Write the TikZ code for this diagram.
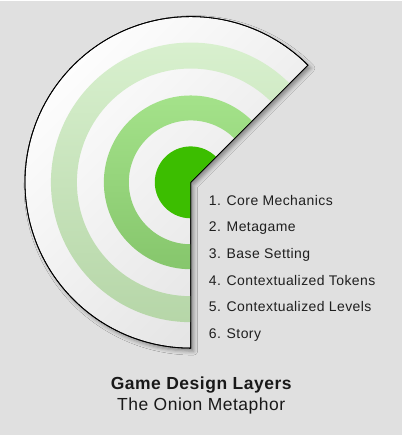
\documentclass[tikz,border=0pt]{standalone}
\usepackage{fontspec}
\setmainfont{Liberation Sans}
\newfontfamily\layerfont{Liberation Sans}[LetterSpace=3]
\usetikzlibrary{shadows.blur}

\definecolor{backdrop}{HTML}{E0E0E0}
\definecolor{coregreen}{HTML}{3CBE00}
\definecolor{midgreentop}{HTML}{A4E28A}
\definecolor{midgreenbot}{HTML}{86C66C}
\definecolor{palegreentop}{HTML}{D8F0CE}
\definecolor{palegreenbot}{HTML}{B6D6A8}

\begin{document}
\begin{tikzpicture}[
  x=1pt,y=1pt,
  onion/.style={draw=black,line width=0.8pt,top color=white,bottom color=black!11,shading angle=45},
  ring/.style={even odd rule,shading angle=45},
  layer/.style={anchor=base west,inner sep=0pt,text=black!88,font=\layerfont\fontsize{14}{16}\selectfont},
  caption/.style={anchor=base,inner sep=0pt,text=black!90}
]
  \fill[backdrop] (0,0) rectangle (403,435);
  \coordinate (core) at (191,253);

  % the cut onion
  \path[onion,blur shadow={shadow xshift=3pt,shadow yshift=-3pt,shadow blur radius=4pt}]
    (core) -- ++(45:166) arc[start angle=45,end angle=270,radius=166] -- cycle;
  \begin{scope}
    \clip (core) -- ++(45:166) arc[start angle=45,end angle=270,radius=166] -- cycle;
    \shade[ring,top color=palegreentop,bottom color=palegreenbot]
      (core) circle[radius=140] (core) circle[radius=114];
    \shade[ring,top color=midgreentop,bottom color=midgreenbot]
      (core) circle[radius=87] (core) circle[radius=62];
    \fill[coregreen] (core) circle[radius=36];
  \end{scope}
  \draw[line width=0.8pt] (core) -- ++(45:166) arc[start angle=45,end angle=270,radius=166] -- cycle;

  % layer list
  \foreach \layername [count=\i] in {Core Mechanics,Metagame,Base Setting,Contextualized Tokens,Contextualized Levels,Story}
    \node[layer] (layer\i) at (209,230-26.67*\i+26.67) {\i. \layername};

  \node[caption,font=\layerfont\bfseries\fontsize{17.5}{20}\selectfont] (title) at (201.5,46) {Game Design Layers};
  \node[caption,font=\layerfont\fontsize{17.5}{20}\selectfont] (subtitle) at (201.5,25) {The Onion Metaphor};
\end{tikzpicture}
\end{document}
